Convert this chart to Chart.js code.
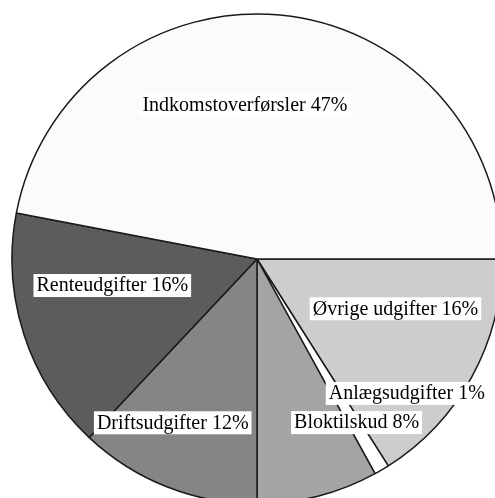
<!DOCTYPE html>
<html>
<head>
<meta charset="utf-8">
<script src="https://cdn.jsdelivr.net/npm/chart.js@4"></script>
<style>
  html, body { margin: 0; padding: 0; background: #fff; overflow: hidden; width: 495px; height: 498px; }
  #wrap { position: absolute; left: 7px; top: 9px; width: 500px; height: 500px; }
</style>
</head>
<body>
<div id="wrap"><canvas id="pie"></canvas></div>
<script>
// data (clockwise from 3 o'clock)
const labels = ['Øvrige udgifter', 'Anlægsudgifter', 'Bloktilskud', 'Driftsudgifter', 'Renteudgifter', 'Indkomstoverførsler'];
const shares = [16, 1, 8, 12, 16, 47];
const sliceColors = ['#cdcdcd', '#ffffff', '#a4a4a4', '#858585', '#5c5c5c', '#fbfbfb'];

// where each label sits: [angle in deg clockwise from east, fraction of radius]
const labelSpots = [[19.6, 0.60], [41.8, 0.82], [58.6, 0.78], [117.3, 0.75], [169.8, 0.60], [265.5, 0.63]];

const boxedLabels = {
  id: 'boxedLabels',
  afterDatasetsDraw(chart) {
    const ctx = chart.ctx;
    const arcs = chart.getDatasetMeta(0).data;
    if (!arcs.length) return;
    const cx = arcs[0].x, cy = arcs[0].y, R = arcs[0].outerRadius;
    ctx.save();
    ctx.font = '20px "Liberation Serif", "Times New Roman", serif';
    ctx.textAlign = 'center';
    ctx.textBaseline = 'middle';
    labels.forEach((name, i) => {
      const [deg, f] = labelSpots[i];
      const a = deg * Math.PI / 180;
      const x = cx + Math.cos(a) * R * f;
      const y = cy + Math.sin(a) * R * f;
      const txt = name + ' ' + shares[i] + '%';
      const w = ctx.measureText(txt).width;
      ctx.fillStyle = '#fff';
      ctx.fillRect(x - w / 2 - 3, y - 11, w + 6, 23);
      ctx.fillStyle = '#000';
      ctx.fillText(txt, x, y + 1);
    });
    ctx.restore();
  }
};

new Chart(document.getElementById('pie'), {
  type: 'pie',
  data: {
    labels,
    datasets: [{
      data: shares,
      backgroundColor: sliceColors,
      borderColor: '#1a1a1a',
      borderWidth: 1.5
    }]
  },
  options: {
    responsive: true,
    maintainAspectRatio: false,
    animation: false,
    rotation: 90,
    radius: 245,
    layout: { padding: 0 },
    plugins: { legend: { display: false }, tooltip: { enabled: false } }
  },
  plugins: [boxedLabels]
});
</script>
</body>
</html>
